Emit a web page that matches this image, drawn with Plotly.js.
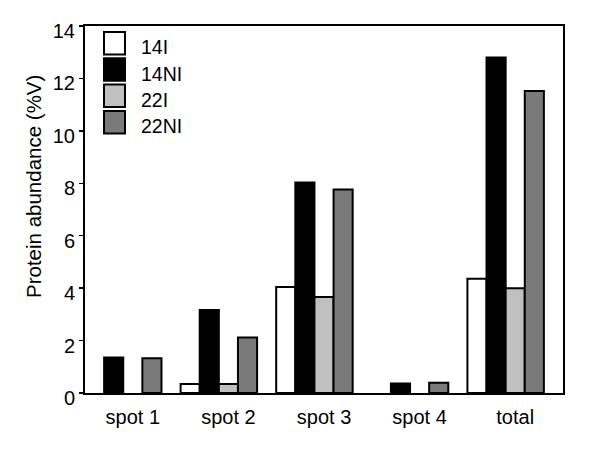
<!DOCTYPE html>
<html>
<head>
<meta charset="utf-8">
<script src="https://cdn.plot.ly/plotly-3.0.1.min.js"></script>
<style>html,body{margin:0;padding:0;background:#fff;}#chart{width:600px;height:453px;}</style>
</head>
<body>
<div id="chart"></div>
<script>
const categories = ["spot 1", "spot 2", "spot 3", "spot 4", "total"];
const seriesNames = ["14I", "14NI", "22I", "22NI"];
const v14I  = [0, 0.34, 4.04, 0, 4.36];
const v14NI = [1.35, 3.17, 8.03, 0.36, 12.8];
const v22I  = [0, 0.34, 3.66, 0, 4.0];
const v22NI = [1.33, 2.12, 7.76, 0.39, 11.52];
const yTicks = [0, 2, 4, 6, 8, 10, 12, 14];
const yTitle = "Protein abundance (%V)";
const colors = ["#ffffff", "#000000", "#c0c0c0", "#7a7a7a"];

const values = [v14I, v14NI, v22I, v22NI];
const font = "Liberation Sans, Arial, sans-serif";
const barWidth = 0.2;
const groupStart = -0.5; // groups sit slightly left of their labels, as in the original

const traces = values.map((vals, i) => ({
  type: "bar",
  name: seriesNames[i],
  x: categories,
  y: vals,
  width: barWidth,
  offset: groupStart + i * barWidth,
  marker: {color: colors[i], line: {color: "#000", width: vals.map(v => v > 0 ? 2 : 0)}},
  showlegend: false,
  hoverinfo: "none"
}));

// custom legend (large boxes), placed in paper coordinates
const W = 478, H = 367;
const shapes = [];
const annotations = [];
seriesNames.forEach((n, i) => {
  const top = 32 + i * 26.3, bot = top + 22.5;
  shapes.push({
    type: "rect", xref: "paper", yref: "paper",
    x0: (104 - 85) / W, x1: (125 - 85) / W,
    y0: (393 - bot) / H, y1: (393 - top) / H,
    fillcolor: colors[i], line: {color: "#000", width: 2}
  });
  annotations.push({
    xref: "paper", yref: "paper", x: (139 - 85) / W, y: (393 - (top + bot) / 2 - 4) / H,
    xanchor: "left", yanchor: "middle", text: n, showarrow: false,
    font: {family: font, size: 19.5, color: "#000"}
  });
});
// y axis title
annotations.push({
  xref: "paper", yref: "paper", x: (33 - 85) / W, y: (393 - 187) / H,
  xanchor: "center", yanchor: "middle", textangle: -90, text: yTitle, showarrow: false,
  font: {family: font, size: 20.5, color: "#000"}
});

const layout = {
  width: 600, height: 453,
  margin: {l: 85, r: 37, t: 26, b: 60},
  paper_bgcolor: "#fff", plot_bgcolor: "#fff",
  font: {family: font, color: "#000"},
  xaxis: {
    type: "category", range: [-0.5, 4.5],
    showline: true, linecolor: "#000", linewidth: 2, mirror: true,
    ticks: "", showgrid: false, zeroline: false,
    ticklabelstandoff: 5,
    tickfont: {family: font, size: 20, color: "#000"}
  },
  yaxis: {
    range: [0, 14], tickvals: yTicks, ticktext: yTicks.map(String),
    showline: true, linecolor: "#000", linewidth: 2, mirror: true,
    ticks: "outside", ticklen: 4, tickwidth: 1.5, tickcolor: "#000",
    ticklabelshift: 5,
    showgrid: false, zeroline: false,
    tickfont: {family: font, size: 20, color: "#000"}
  },
  shapes: shapes,
  annotations: annotations
};

Plotly.newPlot("chart", traces, layout, {displayModeBar: false, staticPlot: true});
</script>
</body>
</html>
